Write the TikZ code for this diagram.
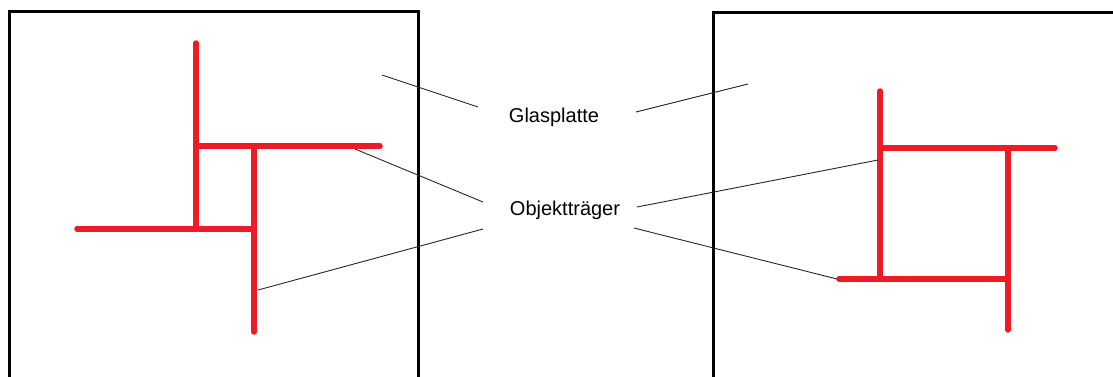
\documentclass[tikz,border=0pt]{standalone}
\usepackage{fontspec}
\setmainfont{Liberation Sans}
\definecolor{paintred}{HTML}{ED1C24}
\begin{document}
\begin{tikzpicture}[x=1pt,y=-1pt,
  frame/.style={line width=3pt,black},
  slide/.style={line width=5.5pt,paintred,line cap=round},
  leader/.style={line width=0.9pt,black!85},
  lbl/.style={font=\fontsize{20}{24}\selectfont,inner sep=0pt}]
\useasboundingbox (0,0) rectangle (1113,376);
% frames (glass plates)
\draw[frame] (9,378) -- (9,11) -- (418,11) -- (418,378);
\draw[frame] (713,378) -- (713,12) -- (1115,12);
% left slides
\draw[slide] (196,43) -- (196,229);
\draw[slide] (196,146) -- (380,146);
\draw[slide] (254,146) -- (254,332);
\draw[slide] (77,229) -- (254,229);
% right slides
\draw[slide] (880,91) -- (880,279);
\draw[slide] (880,148) -- (1055,148);
\draw[slide] (1008,148) -- (1008,330);
\draw[slide] (839,279) -- (1008,279);
% labels
\node[lbl] (glas) at (554,117) {Glasplatte};
\node[lbl] (obj) at (565,210) {Objektträger};
% leader end points
\coordinate (g1a) at (382,75);
\coordinate (g1b) at (478,107);
\coordinate (g2a) at (636,112);
\coordinate (g2b) at (748,84);
\coordinate (o1a) at (355,149);
\coordinate (o1b) at (483,202);
\coordinate (o2a) at (258,290);
\coordinate (o2b) at (483,229);
\coordinate (o3a) at (637,207);
\coordinate (o3b) at (878,160);
\coordinate (o4a) at (634,228);
\coordinate (o4b) at (837,279);
\draw[leader] (g1a) -- (g1b);
\draw[leader] (g2a) -- (g2b);
\draw[leader] (o1a) -- (o1b);
\draw[leader] (o2a) -- (o2b);
\draw[leader] (o3a) -- (o3b);
\draw[leader] (o4a) -- (o4b);
\end{tikzpicture}
\end{document}
